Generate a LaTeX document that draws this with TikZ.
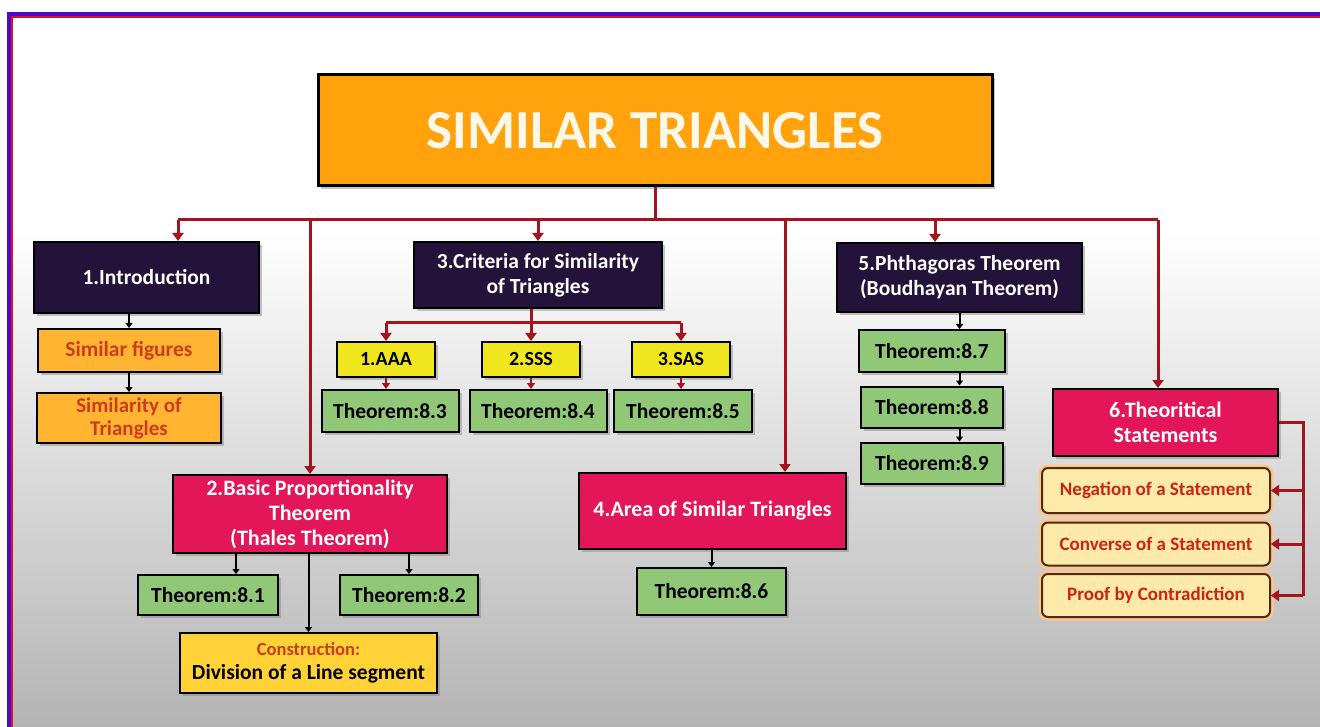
\documentclass[tikz,border=0pt]{standalone}
\usepackage{fontspec}
\setmainfont{Carlito}
\usetikzlibrary{arrows.meta,shadows}
\definecolor{titleorange}{RGB}{255,162,12}
\definecolor{titletext}{RGB}{255,247,232}
\definecolor{navy}{RGB}{35,19,58}
\definecolor{crimson}{RGB}{226,22,88}
\definecolor{introorange}{RGB}{255,180,50}
\definecolor{introtext}{RGB}{205,60,30}
\definecolor{crityellow}{RGB}{240,230,30}
\definecolor{thmgreen}{RGB}{145,200,120}
\definecolor{constryellow}{RGB}{255,210,55}
\definecolor{cream}{RGB}{253,234,170}
\definecolor{statered}{RGB}{205,35,20}
\definecolor{statebrown}{RGB}{75,45,20}
\definecolor{linered}{RGB}{165,20,30}
\definecolor{framepurple}{RGB}{80,10,190}
\definecolor{framered}{RGB}{210,20,50}
\definecolor{bggray}{RGB}{180,180,180}

\begin{document}
\begin{tikzpicture}[x=1pt,y=-1pt,node distance=56pt]
\tikzstyle{block} = [rectangle, draw=black, line width=2pt, align=center, inner sep=0pt, drop shadow={shadow xshift=3pt,shadow yshift=-3pt,opacity=0.45}]
\tikzstyle{head} = [block, fill=navy, text=white, font=\fontsize{21.5}{25}\selectfont\bfseries]
\tikzstyle{topic} = [block, fill=crimson, text=white, font=\fontsize{22}{25}\selectfont\bfseries]
\tikzstyle{introbox} = [block, fill=introorange, text=introtext, font=\fontsize{21.5}{24}\selectfont\bfseries]
\tikzstyle{critbox} = [block, fill=crityellow, minimum width=98pt, minimum height=35pt, font=\fontsize{20}{22}\selectfont\bfseries]
\tikzstyle{thm} = [block, fill=thmgreen, font=\fontsize{21.5}{24}\selectfont\bfseries]
\tikzstyle{statebox} = [rectangle, rounded corners=6pt, fill=cream, draw=statebrown, line width=2pt, preaction={draw=orange!45, line width=7pt}, minimum width=228pt, minimum height=43pt, inner sep=0pt, text=statered, font=\fontsize{19}{22}\selectfont\bfseries]
\tikzstyle{redline} = [draw=linered, line width=3pt]
\tikzstyle{redarrow} = [redline, -{Triangle[length=8pt,width=11pt]}]
\tikzstyle{smallred} = [redline, line width=2.2pt, -{Triangle[length=6pt,width=8pt]}]
\tikzstyle{smallblack} = [draw=black, line width=2pt, -{Triangle[length=5pt,width=7pt]}]

\useasboundingbox (0,0) rectangle (1320,727);
\fill[white] (0,0) rectangle (1320,727);
\shade[top color=white, bottom color=bggray] (12,230) rectangle (1320,727);
\draw[framepurple, line width=3.5pt] (9,727) -- (9,14) -- (1320,14);
\draw[framered, line width=2pt] (12,727) -- (12,17.5) -- (1320,17.5);

\node[block, fill=titleorange, line width=3pt, minimum width=674pt, minimum height=111pt, text=titletext, font=\fontsize{55}{62}\selectfont\bfseries] (title) at (655,130.5) {SIMILAR TRIANGLES};

\node[head, minimum width=225pt, minimum height=71pt] (intro) at (146.5,277.5) {1.Introduction};
\node[introbox, minimum width=182pt, minimum height=43pt] (simfig) at (129,350.5) {Similar figures};
\node[introbox, minimum width=184pt, minimum height=50pt, font=\fontsize{21}{23}\selectfont\bfseries] (simtri) at (129,418) {Similarity of\\Triangles};

\node[head, minimum width=248pt, minimum height=66pt] (crit) at (538,275) {3.Criteria for Similarity\\of Triangles};
\node[critbox] (aaa) at (386,359.5) {1.AAA};
\node[critbox] (sss) at (531,359.5) {2.SSS};
\node[critbox] (sas) at (681,359.5) {3.SAS};
\node[thm, minimum width=137pt, minimum height=42pt] (thm83) at (390,411) {Theorem:8.3};
\node[thm, minimum width=137pt, minimum height=42pt] (thm84) at (538,411) {Theorem:8.4};
\node[thm, minimum width=138pt, minimum height=42pt] (thm85) at (683,411) {Theorem:8.5};

\node[topic, minimum width=274pt, minimum height=78pt] (bpt) at (310,514) {2.Basic Proportionality\\Theorem\\(Thales Theorem)};
\node[thm, minimum width=140pt, minimum height=40pt] (thm81) at (208,595) {Theorem:8.1};
\node[thm, minimum width=138pt, minimum height=40pt] (thm82) at (409,595) {Theorem:8.2};
\node[block, fill=constryellow, minimum width=257pt, minimum height=60pt, font=\fontsize{21.5}{24}\selectfont\bfseries] (constr) at (308.5,663) {{\color{introtext}\fontsize{18.5}{22}\selectfont Construction:}\\Division of a Line segment};

\node[topic, minimum width=267pt, minimum height=76pt] (area) at (712.5,511) {4.Area of Similar Triangles};
\node[thm, minimum width=149pt, minimum height=47pt] (thm86) at (711.5,591.5) {Theorem:8.6};

\node[head, minimum width=245pt, minimum height=69pt] (pyth) at (959.5,277.5) {5.Phthagoras Theorem\\(Boudhayan Theorem)};
\node[thm, minimum width=146pt, minimum height=42pt] (thm87) at (932,351) {Theorem:8.7};
\node[thm, minimum width=142pt, minimum height=41pt, below of=thm87] (thm88) {Theorem:8.8};
\node[thm, minimum width=142pt, minimum height=41pt, below of=thm88] (thm89) {Theorem:8.9};

\node[topic, minimum width=225pt, minimum height=67pt] (theo) at (1165.5,422.5) {6.Theoritical\\Statements};
\node[statebox, minimum height=45pt] (neg) at (1156,490.5) {Negation of a Statement};
\node[statebox, below of=neg, node distance=53.5pt] (conv) {Converse of a Statement};
\node[statebox, below of=conv, node distance=51.5pt] (proof) {Proof by Contradiction};

\coordinate (b1) at (178,220);
\coordinate (b2) at (310,220);
\coordinate (b3) at (538,220);
\coordinate (b4) at (785,220);
\coordinate (b5) at (935,220);
\coordinate (b6) at (1158,220);
\draw[redline] (title.south) -- (title.south |- b1);
\draw[redline] (b1) -- (b6);
\draw[redarrow] (b1) -- (b1 |- intro.north);
\draw[redarrow] (b2) -- (bpt.north);
\draw[redarrow] (b3) -- (crit.north);
\draw[redarrow] (b4) -- (b4 |- area.north);
\draw[redarrow] (b5) -- (b5 |- pyth.north);
\draw[redarrow] (b6) -- (b6 |- theo.north);

\coordinate (c1) at (386,323);
\coordinate (c3) at (681,323);
\draw[redline] (c1) -- (c3);
\draw[redarrow] (crit.south -| sss.north) -- (sss.north);
\draw[redarrow] (c1) -- (aaa.north);
\draw[redarrow] (c3) -- (sas.north);
\draw[smallred] (aaa.south) -- (aaa.south |- thm83.north);
\draw[smallred] (sss.south) -- (sss.south |- thm84.north);
\draw[smallred] (sas.south) -- (sas.south |- thm85.north);

\draw[smallblack] (simfig.north |- intro.south) -- (simfig.north);
\draw[smallblack] (simfig.south) -- (simtri.north);

\path ([xshift=-74pt]bpt.south) coordinate (q1);
\draw[smallblack] (q1) -- (q1 |- thm81.north);
\draw[smallblack] (thm82.north |- bpt.south) -- (thm82.north);
\draw[smallblack] (constr.north |- bpt.south) -- (constr.north);
\draw[smallblack] (thm86.north |- area.south) -- (thm86.north);

\draw[smallblack] (pyth.south) -- (pyth.south |- thm87.north);
\draw[smallblack] (pyth.south |- thm87.south) -- (pyth.south |- thm88.north);
\draw[smallblack] (pyth.south |- thm88.south) -- (pyth.south |- thm89.north);

\path (theo.east) ++(24pt,0pt) coordinate (k);
\draw[redline] (theo.east) -- (k) -- (k |- proof.east);
\draw[redarrow] (k |- neg.east) -- (neg.east);
\draw[redarrow] (k |- conv.east) -- (conv.east);
\draw[redarrow] (k |- proof.east) -- (proof.east);
\end{tikzpicture}
\end{document}
